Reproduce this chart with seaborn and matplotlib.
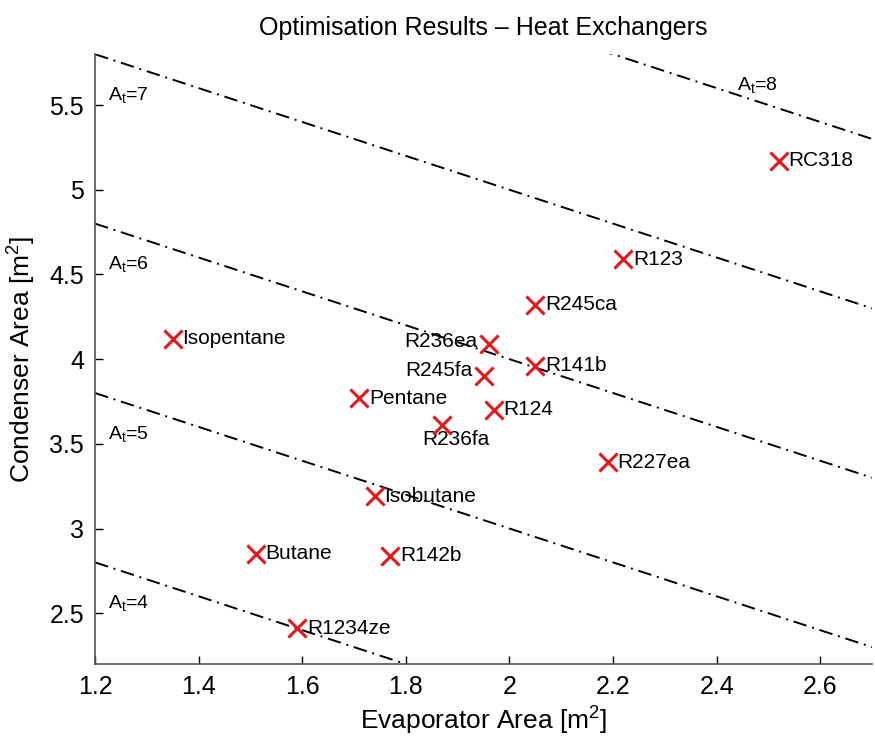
import matplotlib
matplotlib.use("Agg")
import matplotlib.pyplot as plt
import seaborn as sns
import numpy as np
import pandas as pd

# Data
fluids = ["Isopentane", "Pentane", "Butane", "Isobutane", "R142b", "R1234ze",
          "R236fa", "R236ea", "R245fa", "R124", "R141b", "R245ca", "R123",
          "R227ea", "RC318"]
evap_area = [1.35, 1.71, 1.51, 1.74, 1.77, 1.59, 1.87, 1.96, 1.95, 1.97,
             2.05, 2.05, 2.22, 2.19, 2.52]
cond_area = [4.12, 3.77, 2.85, 3.19, 2.84, 2.41, 3.61, 4.09, 3.90, 3.70,
             3.96, 4.32, 4.59, 3.39, 5.17]
total_areas = [4, 5, 6, 7, 8]
total_label_x = [1.225, 1.225, 1.225, 1.225, 2.44]
total_label_y = [2.56, 3.56, 4.56, 5.56, 5.62]
x_ticks = [1.2, 1.4, 1.6, 1.8, 2.0, 2.2, 2.4, 2.6]
x_tick_labels = ["1.2", "1.4", "1.6", "1.8", "2", "2.2", "2.4", "2.6"]
y_ticks = [2.5, 3.0, 3.5, 4.0, 4.5, 5.0, 5.5]
y_tick_labels = ["2.5", "3", "3.5", "4", "4.5", "5", "5.5"]

# label placement (offset in points, alignment)
label_pos = {
    "R236ea": (-8, 2, "right", "center"),
    "R245fa": (-8, 4, "right", "center"),
    "R236fa": (-14, -10, "left", "center"),
}

sns.set_style("white")
plt.rcParams["font.family"] = ["Liberation Sans", "DejaVu Sans"]
plt.rcParams["mathtext.fontset"] = "custom"
plt.rcParams["mathtext.rm"] = "Liberation Sans"
plt.rcParams["mathtext.it"] = "Liberation Sans"
plt.rcParams["text.color"] = "black"
plt.rcParams["axes.labelcolor"] = "black"
plt.rcParams["xtick.color"] = "black"
plt.rcParams["ytick.color"] = "black"

fig = plt.figure(figsize=(8.75, 7.51), dpi=100)
ax = fig.add_axes([0.1086, 0.1158, 0.888, 0.812])

df = pd.DataFrame({"evap": evap_area, "cond": cond_area, "fluid": fluids})

# iso-total-area lines
xs = np.array([1.2, 2.7])
rows = []
for at in total_areas:
    for xv in xs:
        rows.append({"x": xv, "y": at - xv, "At": at})
lines = pd.DataFrame(rows)
for at in total_areas:
    sub = lines[lines["At"] == at]
    l = sns.lineplot(data=sub, x="x", y="y", ax=ax, color="black",
                     linewidth=1.4)
    ax.lines[-1].set_dashes((7, 3, 1, 3))

for at, lx, ly in zip(total_areas, total_label_x, total_label_y):
    ax.text(lx, ly, r"A$_\mathrm{t}$=%d" % at, fontsize=14, ha="left",
            va="center", color="black")

sns.scatterplot(data=df, x="evap", y="cond", ax=ax, marker="x", color="#e31a1c",
                s=170, linewidth=2.2, zorder=5)

for f, xv, yv in zip(fluids, evap_area, cond_area):
    dx, dy, ha, va = label_pos.get(f, (7, 0, "left", "center"))
    ax.annotate(f, (xv, yv), xytext=(dx, dy), textcoords="offset points",
                ha=ha, va=va, fontsize=15, color="black")

ax.set_xlim(1.2, 2.7)
ax.set_ylim(2.2, 5.8)
ax.set_xticks(x_ticks)
ax.set_xticklabels(x_tick_labels)
ax.set_yticks(y_ticks)
ax.set_yticklabels(y_tick_labels)
ax.tick_params(axis="both", direction="in", length=6, width=1, labelsize=18,
               left=True, bottom=True, pad=8, colors="black")
for s in ["top", "right"]:
    ax.spines[s].set_visible(False)
for s in ["left", "bottom"]:
    ax.spines[s].set_color("#555555")
    ax.spines[s].set_linewidth(1.2)

ax.set_xlabel(r"Evaporator Area [m$^2$]", fontsize=19, labelpad=4, color="black")
ax.set_ylabel(r"Condenser Area [m$^2$]", fontsize=19, labelpad=8, color="black")
ax.set_title("Optimisation Results – Heat Exchangers", fontsize=18, pad=14,
             color="black")

fig.savefig("out.png", dpi=100)
